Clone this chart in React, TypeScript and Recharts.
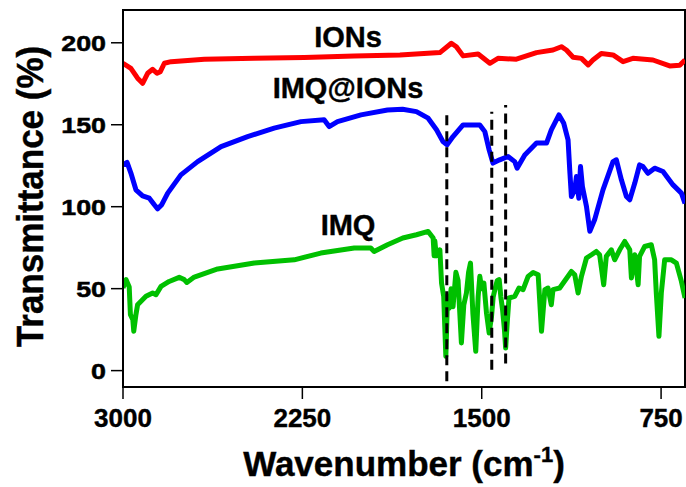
import React from 'react';
import {
  LineChart,
  Line,
  XAxis,
  YAxis,
  ReferenceLine,
  ReferenceArea,
  ReferenceDot,
} from 'recharts';

const FONT = '"Liberation Sans", Arial, Helvetica, sans-serif';

// Axis ticks
const xTicks = [3000, 2250, 1500, 750];
const yTicks = [0, 50, 100, 150, 200];

// IONs spectrum (wavenumber, transmittance)
const ionsWn = [3000, 2967, 2939, 2918, 2897, 2876, 2858, 2844, 2827, 2799, 2660, 2451, 2242, 2033, 1842, 1675, 1627, 1606, 1578, 1515, 1466, 1432, 1355, 1271, 1202, 1167, 1146, 1118, 1083, 1055, 1035, 1000, 951, 909, 868, 784, 714, 672, 650];
const ionsT = [187.5, 184.4, 178.4, 175.3, 181.4, 183.8, 181.4, 182.4, 187.5, 188.5, 190, 190.5, 191, 192, 192.5, 194, 199.7, 197.6, 192, 193.2, 187.5, 190.5, 190, 194, 195.6, 197.6, 195.6, 191.2, 190.5, 186.5, 189.5, 193.5, 192.6, 188.5, 190.5, 189.5, 185.9, 186.3, 189.5];

// IMQ@IONs spectrum
const imqIonsWn = [3000, 2983, 2967, 2946, 2918, 2890, 2869, 2855, 2838, 2813, 2758, 2688, 2590, 2479, 2368, 2256, 2159, 2138, 2103, 2005, 1894, 1831, 1773, 1724, 1689, 1662, 1645, 1620, 1578, 1508, 1487, 1469, 1453, 1425, 1390, 1362, 1352, 1320, 1271, 1229, 1209, 1177, 1157, 1139, 1132, 1125, 1111, 1104, 1094, 1087, 1079, 1062, 1048, 1028, 993, 951, 937, 916, 895, 881, 860, 840, 826, 805, 777, 742, 700, 665, 650];
const imqIonsT = [125.5, 127, 120.5, 110.3, 106.6, 105.2, 101.2, 98.7, 101.2, 108.3, 119.4, 127.5, 136.7, 142.8, 147.9, 151.9, 153, 148.9, 151.9, 156, 159, 159.5, 158, 154, 146.9, 139.7, 137.7, 142.8, 149.9, 149.9, 145.8, 134.7, 126.6, 128.6, 130.6, 127.5, 123.5, 131.6, 138.8, 138.8, 146.9, 156, 150.9, 140.8, 122.5, 106.2, 110.3, 118.4, 105.2, 124.5, 112.3, 100.1, 85, 92, 110.3, 127.5, 128.6, 116.4, 106.2, 104.2, 114.4, 125.5, 124.5, 120.4, 123.5, 121.5, 113.3, 108.3, 102];

// IMQ spectrum
const imqWn = [3000, 2987, 2974, 2969, 2959, 2955, 2946, 2939, 2904, 2876, 2862, 2841, 2807, 2765, 2744, 2733, 2702, 2604, 2451, 2284, 2173, 2033, 1964, 1950, 1894, 1830, 1773, 1724, 1703, 1699, 1696, 1690, 1675, 1668, 1659, 1650, 1643, 1636, 1628, 1620, 1608, 1599, 1585, 1575, 1564, 1555, 1547, 1537, 1525, 1515, 1508, 1500, 1491, 1480, 1469, 1459, 1452, 1445, 1435, 1427, 1420, 1413, 1405, 1400, 1393, 1386, 1362, 1344, 1327, 1306, 1285, 1264, 1250, 1236, 1223, 1209, 1202, 1174, 1125, 1111, 1097, 1083, 1062, 1041, 1021, 1007, 990, 979, 958, 944, 923, 902, 881, 874, 860, 846, 840, 819, 791, 777, 770, 759, 749, 735, 707, 686, 665, 650];
const imqT = [50.4, 55.5, 51, 34.1, 31.1, 24, 34.1, 40.2, 45.3, 47.3, 46.3, 51.4, 54.4, 56.9, 55.5, 53.8, 57.1, 62, 65.6, 67.6, 71.7, 74.8, 74.8, 72.7, 76.8, 80.9, 82.9, 84.9, 80.9, 70, 79, 70, 73.7, 53.4, 45.3, 8.7, 45, 38, 50, 39, 60, 55, 16.9, 40, 47.3, 60, 65.6, 35, 11.8, 45, 57.5, 50, 53.4, 35, 23, 33.1, 45, 49.4, 55, 55.5, 45, 37.2, 25, 13.8, 30, 44.3, 45.3, 50.4, 49.4, 57.5, 59.9, 58.5, 24, 49.4, 50.4, 40.2, 49.4, 50.4, 60.5, 58.5, 47.3, 57.5, 68.7, 70.7, 72.7, 70.7, 52.4, 69.7, 73.7, 67.6, 73.7, 78.8, 73.7, 56.5, 70.7, 52.4, 69.7, 75.7, 76.8, 67.6, 47.3, 20.9, 47.3, 67.6, 67.6, 65.6, 54.4, 44.3];

// Marked band positions (wavenumber, lower end, upper end)
const bandWn = [1646, 1458, 1400];
const bandLow = [-6.5, 0.6, 4.3];
const bandHigh = [158, 158, 162];

// Curve captions (text, wavenumber, transmittance at baseline)
const captionText = ['IONs', 'IMQ@IONs', 'IMQ'];
const captionWn = [2059, 2059, 2059];
const captionT = [197.4, 166.3, 82.7];

const toPoints = (wn: number[], t: number[]) =>
  wn.slice(0, Math.min(wn.length, t.length)).map((w, i) => ({ w, t: t[i] }));

const ionsData = toPoints(ionsWn, ionsT);
const imqIonsData = toPoints(imqIonsWn, imqIonsT);
const imqData = toPoints(imqWn, imqT);

const XTick = (props: any) => {
  const { x, y, payload } = props;
  return (
    <text x={x} y={y + 26} textAnchor="middle" fontFamily={FONT} fontWeight="bold" fontSize={26} fill="#000" stroke="#000" strokeWidth={0.4}>
      {payload.value}
    </text>
  );
};

const YTick = (props: any) => {
  const { x, y, payload } = props;
  return (
    <g transform={`translate(${x - 3},${y + 8}) scale(1.22,1)`}>
      <text x={0} y={0} textAnchor="end" fontFamily={FONT} fontWeight="bold" fontSize={22} fill="#000" stroke="#000" strokeWidth={0.5}>
        {payload.value}
      </text>
    </g>
  );
};

const YTitle = (props: any) => {
  const vb = props.viewBox || { x: 0, y: 10, width: 123, height: 377 };
  const cy = vb.y + vb.height / 2 - 2;
  return (
    <g transform={`translate(43,${cy}) scale(1.08,1) rotate(-90)`}>
      <text x={0} y={0} textAnchor="middle" fontFamily={FONT} fontWeight="bold" fontSize={35} fill="#000" stroke="#000" strokeWidth={0.4}>
        Transmittance (%)
      </text>
    </g>
  );
};

const XTitle = (props: any) => {
  const vb = props.viewBox || { x: 123, y: 387, width: 562, height: 100 };
  const cx = vb.x + vb.width / 2;
  return (
    <text x={cx} y={vb.y + 89} textAnchor="middle" fontFamily={FONT} fontWeight="bold" fontSize={35} fill="#000" stroke="#000" strokeWidth={0.4}>
      Wavenumber (cm
      <tspan fontSize={22} dy={-14}>-1</tspan>
      <tspan dy={14}>)</tspan>
    </text>
  );
};

const captionShape = (text: string) => (p: any) => (
  <text x={p.cx} y={p.cy} textAnchor="middle" fontFamily={FONT} fontWeight="bold" fontSize={29} fill="#000" stroke="#000" strokeWidth={0.4}>
    {text}
  </text>
);

export default function App() {
  return (
    <div style={{ position: 'absolute', left: 0, top: 0, background: '#fff' }}>
      <LineChart width={686} height={487} margin={{ top: 10, right: 1, bottom: 0, left: 0 }}>
        <XAxis
          dataKey="w"
          type="number"
          domain={[650, 3000]}
          reversed
          allowDataOverflow
          ticks={xTicks}
          tickSize={12}
          height={100}
          axisLine={{ stroke: '#000', strokeWidth: 2 }}
          tickLine={{ stroke: '#000', strokeWidth: 1.5 }}
          tick={<XTick />}
          label={{ content: (p: any) => <XTitle {...p} /> }}
        />
        <YAxis
          dataKey="t"
          type="number"
          domain={[-10, 220]}
          allowDataOverflow
          ticks={yTicks}
          tickSize={12}
          width={123}
          axisLine={{ stroke: '#000', strokeWidth: 2 }}
          tickLine={{ stroke: '#000', strokeWidth: 1.5 }}
          tick={<YTick />}
          label={{ content: (p: any) => <YTitle {...p} /> }}
        />
        <ReferenceArea x1={650} x2={3000} y1={-10} y2={220} fill="none" stroke="#000" strokeWidth={2} ifOverflow="visible" />
        <Line data={ionsData} dataKey="t" type="linear" stroke="#ff0000" strokeWidth={5} dot={false} isAnimationActive={false} strokeLinejoin="round" />
        <Line data={imqIonsData} dataKey="t" type="linear" stroke="#0000ff" strokeWidth={5} dot={false} isAnimationActive={false} strokeLinejoin="round" />
        <Line data={imqData} dataKey="t" type="linear" stroke="#00c000" strokeWidth={5} dot={false} isAnimationActive={false} strokeLinejoin="round" />
        {bandWn.map((w, i) => (
          <ReferenceLine
            key={`band-${i}`}
            segment={[{ x: w, y: bandLow[i] }, { x: w, y: bandHigh[i] }]}
            stroke="#000"
            strokeWidth={3}
            strokeDasharray="10 6"
          />
        ))}
        {captionText.map((txt, i) => (
          <ReferenceDot key={`cap-${i}`} x={captionWn[i]} y={captionT[i]} r={0} shape={captionShape(txt)} />
        ))}
      </LineChart>
    </div>
  );
}
